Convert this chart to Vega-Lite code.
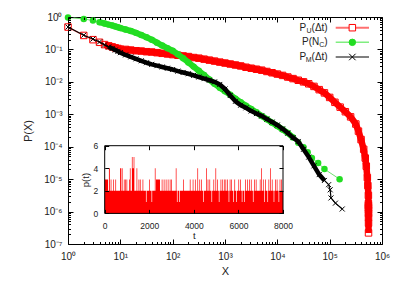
{
"$schema": "https://vega.github.io/schema/vega-lite/v6.json",
"width": 314, "height": 227,
"autosize": {"type": "none"},
"padding": {"left": 68, "top": 17, "right": 23, "bottom": 40},
"background": "white",
"config": {
  "view": {"stroke": "#000000", "strokeWidth": 1},
  "font": "Liberation Sans",
  "axis": {"labelFont": "Liberation Sans", "titleFont": "Liberation Sans", "labelColor": "#222222", "titleColor": "#222222", "titleFontWeight": "normal", "tickColor": "#000000", "grid": false, "domain": false, "labelFlush": false, "labelOverlap": false}
},
"datasets": {
  "main": [
    {"s":"U","x":1,"y":0.49},{"s":"U","x":2,"y":0.27},{"s":"U","x":3,"y":0.2},{"s":"U","x":4,"y":0.166},{"s":"U","x":5,"y":0.141},{"s":"U","x":6,"y":0.129},{"s":"U","x":7,"y":0.12},{"s":"U","x":8,"y":0.112},{"s":"U","x":9,"y":0.107},{"s":"U","x":10,"y":0.102},
    {"s":"U","x":12.59,"y":0.1},{"s":"U","x":15.85,"y":0.0955},{"s":"U","x":19.95,"y":0.0912},{"s":"U","x":25.12,"y":0.0891},{"s":"U","x":31.62,"y":0.0851},{"s":"U","x":39.81,"y":0.0832},{"s":"U","x":50.12,"y":0.0794},{"s":"U","x":63.1,"y":0.0759},{"s":"U","x":79.43,"y":0.0724},{"s":"U","x":100,"y":0.0692},
    {"s":"U","x":125.9,"y":0.0661},{"s":"U","x":158.5,"y":0.0631},{"s":"U","x":199.5,"y":0.0603},{"s":"U","x":251.2,"y":0.0562},{"s":"U","x":316.2,"y":0.0537},{"s":"U","x":398.1,"y":0.0501},{"s":"U","x":501.2,"y":0.0468},{"s":"U","x":631,"y":0.0437},{"s":"U","x":794.3,"y":0.0407},{"s":"U","x":1000,"y":0.038},
    {"s":"U","x":1259,"y":0.0355},{"s":"U","x":1585,"y":0.0331},{"s":"U","x":1995,"y":0.0309},{"s":"U","x":2512,"y":0.0282},{"s":"U","x":3162,"y":0.0263},{"s":"U","x":3981,"y":0.0245},{"s":"U","x":5012,"y":0.0229},{"s":"U","x":6310,"y":0.0209},{"s":"U","x":7943,"y":0.0191},{"s":"U","x":10000,"y":0.0174},
    {"s":"U","x":12589,"y":0.0158},{"s":"U","x":15849,"y":0.0141},{"s":"U","x":19953,"y":0.0126},{"s":"U","x":25119,"y":0.0112},{"s":"U","x":31623,"y":0.01},{"s":"U","x":39811,"y":0.00871},{"s":"U","x":50119,"y":0.00724},{"s":"U","x":63096,"y":0.00575},{"s":"U","x":79433,"y":0.00457},{"s":"U","x":100000,"y":0.00331},
    {"s":"U","x":125893,"y":0.00234},{"s":"U","x":158489,"y":0.00166},{"s":"U","x":199526,"y":0.0012},{"s":"U","x":251189,"y":0.000832},{"s":"U","x":316228,"y":0.000501},{"s":"U","x":354813,"y":0.000302},{"s":"U","x":398107,"y":0.000166},{"s":"U","x":446684,"y":0.0000832},{"s":"U","x":478630,"y":0.0000447},{"s":"U","x":501187,"y":0.0000251},
    {"s":"U","x":524807,"y":0.0000112},{"s":"U","x":537032,"y":0.00000631},{"s":"U","x":549541,"y":0.00000316},{"s":"U","x":550000,"y":0.00000176},{"s":"U","x":550600,"y":0.00000154},{"s":"U","x":551200,"y":0.00000132},{"s":"U","x":551700,"y":0.0000011},{"s":"U","x":552100,"y":0.00000088},{"s":"U","x":552400,"y":0.00000066},{"s":"U","x":552700,"y":0.00000044},{"s":"U","x":553000,"y":0.00000022},
    {"s":"N","x":1,"y":0.966},{"s":"N","x":2,"y":0.871},{"s":"N","x":3,"y":0.776},{"s":"N","x":4,"y":0.692},{"s":"N","x":5,"y":0.631},{"s":"N","x":6,"y":0.582},{"s":"N","x":7,"y":0.55},{"s":"N","x":8,"y":0.513},{"s":"N","x":9,"y":0.484},{"s":"N","x":10,"y":0.457},
    {"s":"N","x":12.59,"y":0.412},{"s":"N","x":15.85,"y":0.372},{"s":"N","x":19.95,"y":0.324},{"s":"N","x":25.12,"y":0.279},{"s":"N","x":31.62,"y":0.237},{"s":"N","x":39.81,"y":0.1995},{"s":"N","x":50.12,"y":0.162},{"s":"N","x":63.1,"y":0.132},{"s":"N","x":79.43,"y":0.1096},{"s":"N","x":100,"y":0.0912},
    {"s":"N","x":125.9,"y":0.0708},{"s":"N","x":158.5,"y":0.0537},{"s":"N","x":199.5,"y":0.0398},{"s":"N","x":251.2,"y":0.0295},{"s":"N","x":316.2,"y":0.0219},{"s":"N","x":398.1,"y":0.0162},{"s":"N","x":501.2,"y":0.01175},{"s":"N","x":631,"y":0.00871},{"s":"N","x":794.3,"y":0.00661},{"s":"N","x":1000,"y":0.00513},
    {"s":"N","x":1259,"y":0.00398},{"s":"N","x":1585,"y":0.00302},{"s":"N","x":1995,"y":0.00234},{"s":"N","x":2512,"y":0.00182},{"s":"N","x":3162,"y":0.00145},{"s":"N","x":3981,"y":0.00115},{"s":"N","x":5012,"y":0.000891},{"s":"N","x":6310,"y":0.000708},{"s":"N","x":7943,"y":0.00055},{"s":"N","x":10000,"y":0.000437},
    {"s":"N","x":12589,"y":0.000339},{"s":"N","x":15849,"y":0.000263},{"s":"N","x":19953,"y":0.000191},{"s":"N","x":25119,"y":0.000132},{"s":"N","x":31623,"y":0.0000955},{"s":"N","x":38019,"y":0.0000676},{"s":"N","x":45709,"y":0.0000447},{"s":"N","x":60256,"y":0.0000316},{"s":"N","x":79433,"y":0.0000204},{"s":"N","x":154882,"y":0.00001},
    {"s":"M","x":1,"y":0.49},{"s":"M","x":2,"y":0.275},{"s":"M","x":3,"y":0.209},{"s":"M","x":4,"y":0.17},{"s":"M","x":5,"y":0.138},{"s":"M","x":6,"y":0.12},{"s":"M","x":7,"y":0.107},{"s":"M","x":8,"y":0.0955},{"s":"M","x":9,"y":0.0871},{"s":"M","x":10,"y":0.0794},
    {"s":"M","x":12.59,"y":0.0676},{"s":"M","x":15.85,"y":0.0589},{"s":"M","x":19.95,"y":0.0513},{"s":"M","x":25.12,"y":0.0447},{"s":"M","x":31.62,"y":0.0389},{"s":"M","x":39.81,"y":0.0347},{"s":"M","x":50.12,"y":0.0316},{"s":"M","x":63.1,"y":0.0288},{"s":"M","x":79.43,"y":0.0263},{"s":"M","x":100,"y":0.024},
    {"s":"M","x":125.9,"y":0.0214},{"s":"M","x":158.5,"y":0.0195},{"s":"M","x":199.5,"y":0.0178},{"s":"M","x":251.2,"y":0.01585},{"s":"M","x":316.2,"y":0.0141},{"s":"M","x":398.1,"y":0.0126},{"s":"M","x":501.2,"y":0.0112},{"s":"M","x":631,"y":0.01},{"s":"M","x":794.3,"y":0.00832},{"s":"M","x":1000,"y":0.00603},
    {"s":"M","x":1259,"y":0.0038},{"s":"M","x":1585,"y":0.00251},{"s":"M","x":1995,"y":0.00191},{"s":"M","x":2512,"y":0.00158},{"s":"M","x":3162,"y":0.00126},{"s":"M","x":3981,"y":0.00105},{"s":"M","x":5012,"y":0.000891},{"s":"M","x":6310,"y":0.000708},{"s":"M","x":7943,"y":0.000575},{"s":"M","x":10000,"y":0.000468},
    {"s":"M","x":12589,"y":0.000355},{"s":"M","x":15849,"y":0.000263},{"s":"M","x":19953,"y":0.000191},{"s":"M","x":25119,"y":0.000145},{"s":"M","x":31623,"y":0.0000832},{"s":"M","x":39811,"y":0.0000479},{"s":"M","x":50119,"y":0.0000257},{"s":"M","x":63096,"y":0.0000138},{"s":"M","x":79433,"y":0.00000912},{"s":"M","x":95499,"y":0.00000676},
    {"s":"M","x":102329,"y":0.00000468},{"s":"M","x":105925,"y":0.00000263},{"s":"M","x":128825,"y":0.00000182},{"s":"M","x":173780,"y":0.0000012}
  ],
  "inset": [
    {"t":0,"p":3},{"t":150,"p":2},{"t":190,"p":4},{"t":230,"p":2},{"t":270,"p":3},{"t":300,"p":2},{"t":380,"p":3},{"t":410,"p":2},{"t":480,"p":3},{"t":510,"p":2},
    {"t":690,"p":4},{"t":730,"p":2},{"t":760,"p":4},{"t":800,"p":2},{"t":860,"p":3},{"t":890,"p":2},{"t":920,"p":3},{"t":950,"p":2},{"t":980,"p":3},{"t":1010,"p":2},
    {"t":1090,"p":3},{"t":1120,"p":2},{"t":1130,"p":4},{"t":1160,"p":2},{"t":1220,"p":5},{"t":1250,"p":4},{"t":1300,"p":5},{"t":1330,"p":2},{"t":1430,"p":4},{"t":1460,"p":2},
    {"t":1520,"p":3},{"t":1550,"p":2},{"t":1580,"p":3},{"t":1610,"p":2},{"t":1700,"p":3},{"t":1730,"p":2},{"t":1850,"p":1},{"t":1880,"p":2},{"t":2000,"p":3},{"t":2030,"p":2},
    {"t":2100,"p":1},{"t":2130,"p":2},{"t":2250,"p":4},{"t":2280,"p":2},{"t":2300,"p":3},{"t":2480,"p":2},{"t":2560,"p":3},{"t":2590,"p":2},{"t":2650,"p":3},{"t":2680,"p":2},
    {"t":2740,"p":3},{"t":2770,"p":2},{"t":2830,"p":3},{"t":2860,"p":2},{"t":2920,"p":3},{"t":2950,"p":2},{"t":2980,"p":3},{"t":3010,"p":2},{"t":3190,"p":4},{"t":3220,"p":2},
    {"t":3240,"p":1},{"t":3270,"p":2},{"t":3340,"p":1},{"t":3370,"p":2},{"t":3520,"p":3},{"t":3550,"p":2},{"t":3820,"p":3},{"t":3850,"p":2},{"t":3950,"p":3},{"t":3980,"p":2},
    {"t":4050,"p":3},{"t":4080,"p":2},{"t":4160,"p":4},{"t":4190,"p":2},{"t":4250,"p":3},{"t":4280,"p":2},{"t":4330,"p":3},{"t":4360,"p":2},{"t":4420,"p":1},{"t":4450,"p":2},
    {"t":4560,"p":4},{"t":4590,"p":2},{"t":4620,"p":3},{"t":4650,"p":2},{"t":4700,"p":3},{"t":4730,"p":2},{"t":4790,"p":1},{"t":4820,"p":2},{"t":4880,"p":3},{"t":4910,"p":2},
    {"t":4970,"p":4},{"t":5000,"p":2},{"t":5050,"p":3},{"t":5080,"p":2},{"t":5120,"p":1},{"t":5150,"p":2},{"t":5200,"p":3},{"t":5230,"p":2},{"t":5280,"p":3},{"t":5310,"p":2},
    {"t":5350,"p":3},{"t":5380,"p":2},{"t":5420,"p":3},{"t":5450,"p":2},{"t":5500,"p":3},{"t":5530,"p":2},{"t":5560,"p":1},{"t":5590,"p":2},{"t":5610,"p":3},{"t":5640,"p":2},
    {"t":5680,"p":3},{"t":5710,"p":2},{"t":5760,"p":1},{"t":5790,"p":2},{"t":5820,"p":3},{"t":5850,"p":2},{"t":5900,"p":1},{"t":5930,"p":2},{"t":6000,"p":3},{"t":6030,"p":2},
    {"t":6080,"p":3},{"t":6110,"p":2},{"t":6150,"p":1},{"t":6180,"p":2},{"t":6250,"p":1},{"t":6280,"p":2},{"t":6300,"p":3},{"t":6330,"p":2},{"t":6400,"p":3},{"t":6430,"p":2},
    {"t":6480,"p":3},{"t":6510,"p":2},{"t":6560,"p":3},{"t":6590,"p":2},{"t":6650,"p":1},{"t":6680,"p":2},{"t":6700,"p":3},{"t":6730,"p":2},{"t":6780,"p":3},{"t":6810,"p":2},
    {"t":6960,"p":3},{"t":6990,"p":2},{"t":7020,"p":4},{"t":7050,"p":2},{"t":7100,"p":3},{"t":7130,"p":2},{"t":7150,"p":1},{"t":7180,"p":2},{"t":7200,"p":3},{"t":7230,"p":2},
    {"t":7300,"p":1},{"t":7330,"p":2},{"t":7350,"p":3},{"t":7380,"p":2},{"t":7420,"p":4},{"t":7450,"p":2},{"t":7500,"p":3},{"t":7530,"p":2},{"t":7580,"p":1},{"t":7610,"p":2},
    {"t":7650,"p":3},{"t":7680,"p":2},{"t":7720,"p":3},{"t":7750,"p":2},{"t":7800,"p":1},{"t":7830,"p":2},{"t":7850,"p":3},{"t":7880,"p":2},{"t":7920,"p":3},{"t":7950,"p":2},{"t":8000,"p":2}
  ],
  "legend": [
    {"s":"U","pre":"P","sub":"U","tail":"(Δt)"},
    {"s":"N","pre":"P(N","sub":"C","tail":")"},
    {"s":"M","pre":"P","sub":"M","tail":"(Δt)"}
  ]
},
"layer": [
  {
    "data": {"name": "main"},
    "layer": [
      {"transform": [{"filter": "datum.s == 'U'"}],
       "mark": {"type": "line", "color": "#ff6060", "strokeWidth": 1.5},
       "encoding": {
         "x": {"field": "x", "type": "quantitative", "scale": {"type": "log", "domain": [1, 1000000], "nice": false},
               "axis": {"orient": "bottom", "values": [1,10,100,1000,10000,100000,1000000], "labelExpr": "'10' + ['⁰','¹','²','³','⁴','⁵','⁶'][round(log(datum.value)/LN10)]", "tickSize": -5, "labelPadding": 12, "labelFontSize": 10, "title": "X", "titleFontSize": 11, "titlePadding": 4, "zindex": 1}},
         "y": {"field": "y", "type": "quantitative", "scale": {"type": "log", "domain": [1e-7, 1], "nice": false},
               "axis": {"orient": "left", "values": [1e-7,1e-6,1e-5,1e-4,0.001,0.01,0.1,1], "labelExpr": "'10' + (datum.value < 0.5 ? '⁻' : '') + ['⁰','¹','²','³','⁴','⁵','⁶','⁷'][round(abs(log(datum.value)/LN10))]", "tickSize": -5, "labelPadding": 11, "labelFontSize": 10, "title": "P(X)", "titleFontSize": 11, "titlePadding": 10, "zindex": 1}}
       }},
      {"transform": [{"filter": "datum.s == 'U' && datum.x >= 5"}],
       "mark": {"type": "line", "color": "#ff0000", "strokeWidth": 6.5, "strokeJoin": "round"},
       "encoding": {
         "x": {"field": "x", "type": "quantitative", "scale": {"type": "log", "domain": [1, 1000000], "nice": false},
               "axis": {"orient": "bottom", "values": [2,3,4,5,6,7,8,9,20,30,40,50,60,70,80,90,200,300,400,500,600,700,800,900,2000,3000,4000,5000,6000,7000,8000,9000,20000,30000,40000,50000,60000,70000,80000,90000,200000,300000,400000,500000,600000,700000,800000,900000], "labels": false, "tickSize": -2.5, "title": null, "zindex": 1}},
         "y": {"field": "y", "type": "quantitative", "scale": {"type": "log", "domain": [1e-7, 1], "nice": false},
               "axis": {"orient": "left", "values": [2e-7,3e-7,4e-7,5e-7,6e-7,7e-7,8e-7,9e-7,2e-6,3e-6,4e-6,5e-6,6e-6,7e-6,8e-6,9e-6,2e-5,3e-5,4e-5,5e-5,6e-5,7e-5,8e-5,9e-5,2e-4,3e-4,4e-4,5e-4,6e-4,7e-4,8e-4,9e-4,0.002,0.003,0.004,0.005,0.006,0.007,0.008,0.009,0.02,0.03,0.04,0.05,0.06,0.07,0.08,0.09,0.2,0.3,0.4,0.5,0.6,0.7,0.8,0.9], "labels": false, "tickSize": -2.5, "title": null, "zindex": 1}}
       }},
      {"transform": [{"filter": "datum.s == 'U'"}],
       "mark": {"type": "point", "shape": "square", "filled": false, "color": "#ff0000", "size": 42, "strokeWidth": 1, "opacity": 1},
       "encoding": {
         "x": {"field": "x", "type": "quantitative", "scale": {"type": "log", "domain": [1, 1000000], "nice": false},
               "axis": {"orient": "top", "values": [1,10,100,1000,10000,100000,1000000], "labels": false, "tickSize": -5, "title": null, "zindex": 1}},
         "y": {"field": "y", "type": "quantitative", "scale": {"type": "log", "domain": [1e-7, 1], "nice": false},
               "axis": {"orient": "right", "values": [1e-7,1e-6,1e-5,1e-4,0.001,0.01,0.1,1], "labels": false, "tickSize": -5, "title": null, "zindex": 1}}
       }},
      {"transform": [{"filter": "datum.s == 'N'"}],
       "mark": {"type": "line", "color": "#70e070", "strokeWidth": 1},
       "encoding": {
         "x": {"field": "x", "type": "quantitative", "scale": {"type": "log", "domain": [1, 1000000], "nice": false},
               "axis": {"orient": "top", "values": [2,3,4,5,6,7,8,9,20,30,40,50,60,70,80,90,200,300,400,500,600,700,800,900,2000,3000,4000,5000,6000,7000,8000,9000,20000,30000,40000,50000,60000,70000,80000,90000,200000,300000,400000,500000,600000,700000,800000,900000], "labels": false, "tickSize": -2.5, "title": null, "zindex": 1}},
         "y": {"field": "y", "type": "quantitative", "scale": {"type": "log", "domain": [1e-7, 1], "nice": false},
               "axis": {"orient": "right", "values": [2e-7,3e-7,4e-7,5e-7,6e-7,7e-7,8e-7,9e-7,2e-6,3e-6,4e-6,5e-6,6e-6,7e-6,8e-6,9e-6,2e-5,3e-5,4e-5,5e-5,6e-5,7e-5,8e-5,9e-5,2e-4,3e-4,4e-4,5e-4,6e-4,7e-4,8e-4,9e-4,0.002,0.003,0.004,0.005,0.006,0.007,0.008,0.009,0.02,0.03,0.04,0.05,0.06,0.07,0.08,0.09,0.2,0.3,0.4,0.5,0.6,0.7,0.8,0.9], "labels": false, "tickSize": -2.5, "title": null, "zindex": 1}}
       }},
      {"transform": [{"filter": "datum.s == 'N' && datum.x >= 4 && datum.x <= 21000"}],
       "mark": {"type": "line", "color": "#22dd22", "strokeWidth": 6, "strokeJoin": "round"},
       "encoding": {
         "x": {"field": "x", "type": "quantitative", "scale": {"type": "log", "domain": [1, 1000000], "nice": false}, "axis": null},
         "y": {"field": "y", "type": "quantitative", "scale": {"type": "log", "domain": [1e-7, 1], "nice": false}, "axis": null}
       }},
      {"transform": [{"filter": "datum.s == 'N'"}],
       "mark": {"type": "point", "shape": "circle", "filled": true, "color": "#22dd22", "size": 42, "opacity": 1},
       "encoding": {
         "x": {"field": "x", "type": "quantitative", "scale": {"type": "log", "domain": [1, 1000000], "nice": false}, "axis": null},
         "y": {"field": "y", "type": "quantitative", "scale": {"type": "log", "domain": [1e-7, 1], "nice": false}, "axis": null}
       }},
      {"transform": [{"filter": "datum.s == 'M'"}],
       "mark": {"type": "line", "color": "#000000", "strokeWidth": 1.2},
       "encoding": {
         "x": {"field": "x", "type": "quantitative", "scale": {"type": "log", "domain": [1, 1000000], "nice": false}, "axis": null},
         "y": {"field": "y", "type": "quantitative", "scale": {"type": "log", "domain": [1e-7, 1], "nice": false}, "axis": null}
       }},
      {"transform": [{"filter": "datum.s == 'M' && datum.x >= 6 && datum.x <= 80000"}],
       "mark": {"type": "line", "color": "#000000", "strokeWidth": 4.5, "strokeJoin": "round"},
       "encoding": {
         "x": {"field": "x", "type": "quantitative", "scale": {"type": "log", "domain": [1, 1000000], "nice": false}, "axis": null},
         "y": {"field": "y", "type": "quantitative", "scale": {"type": "log", "domain": [1e-7, 1], "nice": false}, "axis": null}
       }},
      {"transform": [{"filter": "datum.s == 'M'"}],
       "mark": {"type": "point", "shape": "M-1,-1L1,1M-1,1L1,-1", "filled": false, "color": "#000000", "size": 25, "strokeWidth": 1, "opacity": 1},
       "encoding": {
         "x": {"field": "x", "type": "quantitative", "scale": {"type": "log", "domain": [1, 1000000], "nice": false}, "axis": null},
         "y": {"field": "y", "type": "quantitative", "scale": {"type": "log", "domain": [1e-7, 1], "nice": false}, "axis": null}
       }}
    ],
    "resolve": {"axis": {"x": "independent", "y": "independent"}}
  },
  {
    "layer": [
      {"data": {"values": [{}]},
       "mark": {"type": "rect", "fill": "#ffffff", "strokeWidth": 0},
       "encoding": {
         "x": {"datum": 0, "type": "quantitative", "scale": {"domain": [0, 8000], "range": [36.7, 215], "nice": false, "zero": false},
               "axis": {"orient": "bottom", "offset": -30.6, "values": [0,2000,4000,6000,8000], "format": "d", "tickSize": -4, "labelPadding": 12, "labelFontSize": 8.5, "title": "t", "titleFontSize": 9.5, "titlePadding": 1, "zindex": 1}},
         "x2": {"datum": 8000},
         "y": {"datum": 0, "type": "quantitative", "scale": {"domain": [0, 6], "range": [196.4, 128.7], "nice": false, "zero": false},
               "axis": {"orient": "left", "offset": -36.7, "values": [0,2,4,6], "format": "d", "tickSize": -4, "labelPadding": 11, "labelFontSize": 8.5, "title": "p(t)", "titleFontSize": 9.5, "titlePadding": 2, "zindex": 1}},
         "y2": {"datum": 6}
       }},
      {"data": {"name": "inset"},
       "mark": {"type": "area", "interpolate": "step-after", "color": "#ff0000", "opacity": 1},
       "encoding": {
         "x": {"field": "t", "type": "quantitative", "scale": {"domain": [0, 8000], "range": [36.7, 215], "nice": false, "zero": false},
               "axis": {"orient": "top", "offset": -128.7, "values": [0,2000,4000,6000,8000], "tickSize": -4, "labels": false, "title": null, "zindex": 1}},
         "y": {"field": "p", "type": "quantitative", "scale": {"domain": [0, 6], "range": [196.4, 128.7], "nice": false, "zero": false},
               "axis": {"orient": "right", "offset": -99, "values": [0,2,4,6], "tickSize": -4, "labels": false, "title": null, "zindex": 1}}
       }},
      {"data": {"values": [{}]},
       "mark": {"type": "rect", "fill": "transparent", "stroke": "#000000", "strokeWidth": 1},
       "encoding": {
         "x": {"datum": 0, "type": "quantitative", "scale": {"domain": [0, 8000], "range": [36.7, 215], "nice": false, "zero": false}, "axis": null},
         "x2": {"datum": 8000},
         "y": {"datum": 0, "type": "quantitative", "scale": {"domain": [0, 6], "range": [196.4, 128.7], "nice": false, "zero": false}, "axis": null},
         "y2": {"datum": 6}
       }}
    ],
    "resolve": {"axis": {"x": "independent", "y": "independent"}}
  },
  {
    "data": {"name": "legend"},
    "layer": [
      {"mark": {"type": "rule"},
       "encoding": {
         "x": {"datum": 0, "type": "quantitative", "scale": {"domain": [0, 1], "range": [267.7, 301], "nice": false, "zero": false}, "axis": null},
         "x2": {"datum": 1},
         "y": {"field": "s", "type": "nominal", "scale": {"type": "point", "domain": ["U","N","M"], "range": [10.7, 40], "padding": 0}, "axis": null},
         "color": {"field": "s", "type": "nominal", "scale": {"domain": ["U","N","M"], "range": ["#ff7070","#80ee80","#000000"]}, "legend": null},
         "strokeWidth": {"field": "s", "type": "nominal", "scale": {"domain": ["U","N","M"], "range": [2, 1, 1]}, "legend": null}
       }},
      {"mark": {"type": "point", "filled": true, "strokeWidth": 1, "opacity": 1},
       "encoding": {
         "x": {"datum": 0.5, "type": "quantitative", "scale": {"domain": [0, 1], "range": [267.7, 301], "nice": false, "zero": false}, "axis": null},
         "y": {"field": "s", "type": "nominal", "scale": {"type": "point", "domain": ["U","N","M"], "range": [10.7, 40], "padding": 0}, "axis": null},
         "shape": {"field": "s", "type": "nominal", "scale": {"domain": ["U","N","M"], "range": ["square","circle","M-1,-1L1,1M-1,1L1,-1"]}, "legend": null},
         "fill": {"field": "s", "type": "nominal", "scale": {"domain": ["U","N","M"], "range": ["#ffffff","#22dd22","transparent"]}, "legend": null},
         "stroke": {"field": "s", "type": "nominal", "scale": {"domain": ["U","N","M"], "range": ["#ff0000","#22dd22","#000000"]}, "legend": null},
         "size": {"field": "s", "type": "nominal", "scale": {"domain": ["U","N","M"], "range": [42, 42, 18]}, "legend": null}
       }},
      {"mark": {"type": "text", "align": "right", "baseline": "middle", "dx": -8, "fontSize": 10, "color": "#222222"},
       "encoding": {
         "x": {"datum": 0, "type": "quantitative", "scale": {"domain": [0, 1], "range": [267.7, 301], "nice": false, "zero": false}, "axis": null},
         "y": {"field": "s", "type": "nominal", "scale": {"type": "point", "domain": ["U","N","M"], "range": [10.7, 40], "padding": 0}, "axis": null},
         "text": {"field": "tail"}
       }},
      {"transform": [{"filter": "datum.s != 'N'"}],
       "mark": {"type": "text", "align": "right", "baseline": "middle", "dx": -24.1, "dy": 3, "fontSize": 7, "color": "#222222"},
       "encoding": {
         "x": {"datum": 0, "type": "quantitative", "scale": {"domain": [0, 1], "range": [267.7, 301], "nice": false, "zero": false}, "axis": null},
         "y": {"field": "s", "type": "nominal", "scale": {"type": "point", "domain": ["U","N","M"], "range": [10.7, 40], "padding": 0}, "axis": null},
         "text": {"field": "sub"}
       }},
      {"transform": [{"filter": "datum.s == 'N'"}],
       "mark": {"type": "text", "align": "right", "baseline": "middle", "dx": -11.3, "dy": 3, "fontSize": 7, "color": "#222222"},
       "encoding": {
         "x": {"datum": 0, "type": "quantitative", "scale": {"domain": [0, 1], "range": [267.7, 301], "nice": false, "zero": false}, "axis": null},
         "y": {"field": "s", "type": "nominal", "scale": {"type": "point", "domain": ["U","N","M"], "range": [10.7, 40], "padding": 0}, "axis": null},
         "text": {"field": "sub"}
       }},
      {"transform": [{"filter": "datum.s != 'N'"}],
       "mark": {"type": "text", "align": "right", "baseline": "middle", "dx": -29.5, "fontSize": 10, "color": "#222222"},
       "encoding": {
         "x": {"datum": 0, "type": "quantitative", "scale": {"domain": [0, 1], "range": [267.7, 301], "nice": false, "zero": false}, "axis": null},
         "y": {"field": "s", "type": "nominal", "scale": {"type": "point", "domain": ["U","N","M"], "range": [10.7, 40], "padding": 0}, "axis": null},
         "text": {"field": "pre"}
       }},
      {"transform": [{"filter": "datum.s == 'N'"}],
       "mark": {"type": "text", "align": "right", "baseline": "middle", "dx": -16.4, "fontSize": 10, "color": "#222222"},
       "encoding": {
         "x": {"datum": 0, "type": "quantitative", "scale": {"domain": [0, 1], "range": [267.7, 301], "nice": false, "zero": false}, "axis": null},
         "y": {"field": "s", "type": "nominal", "scale": {"type": "point", "domain": ["U","N","M"], "range": [10.7, 40], "padding": 0}, "axis": null},
         "text": {"field": "pre"}
       }}
    ]
  }
],
"resolve": {"scale": {"x": "independent", "y": "independent"}}
}
